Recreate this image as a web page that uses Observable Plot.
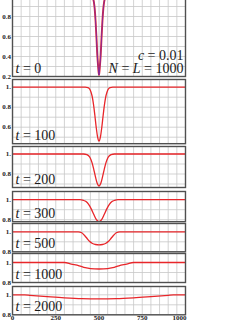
<!DOCTYPE html>
<html><head><meta charset="utf-8">
<script src="https://cdn.jsdelivr.net/npm/d3@7"></script>
<script src="https://cdn.jsdelivr.net/npm/@observablehq/plot@0.6"></script>
<style>
html,body{margin:0;padding:0;background:#fff}
#chart{position:relative;width:249px;height:323px;overflow:hidden}
#chart svg{position:absolute;left:0;overflow:visible}
#chart g[aria-label$="tick label"]{font-weight:bold}
</style></head><body><div id="chart"></div>
<script>
// ---- data ----
const times = [0, 100, 200, 300, 500, 1000, 2000];
const xTicks = [0, 250, 500, 750, 1000];
const paramText1 = "c = 0.01";
const paramText2 = "N = L = 1000";

const x_t0 = [0, 440, 460, 465, 470, 475, 480, 485, 490, 495, 498, 500, 502, 505, 510, 515, 520, 525, 530, 535, 540, 560, 1000];
const u_t0 = [1, 1, 0.995, 0.982, 0.948, 0.878, 0.76, 0.6, 0.42, 0.3, 0.24, 0.215, 0.24, 0.3, 0.42, 0.6, 0.76, 0.878, 0.948, 0.982, 0.995, 1, 1];

const x_t100 = [0, 420, 436, 444, 452, 460, 468, 476, 484, 492, 500, 508, 516, 524, 532, 540, 548, 556, 564, 580, 1000];
const u_t100 = [1, 1, 0.995, 0.985, 0.96, 0.912, 0.831, 0.719, 0.596, 0.5, 0.46, 0.5, 0.596, 0.719, 0.831, 0.912, 0.96, 0.985, 0.995, 1, 1];

const x_t200 = [0, 410, 430, 440, 450, 460, 470, 480, 490, 500, 510, 520, 530, 540, 550, 560, 570, 590, 1000];
const u_t200 = [1, 1, 0.994, 0.982, 0.957, 0.911, 0.844, 0.768, 0.705, 0.68, 0.705, 0.768, 0.844, 0.911, 0.957, 0.982, 0.994, 1, 1];

const x_t300 = [0, 390, 410, 425, 440, 455, 470, 485, 500, 515, 530, 545, 560, 575, 590, 610, 1000];
const u_t300 = [1, 1, 0.993, 0.981, 0.954, 0.908, 0.851, 0.8, 0.78, 0.8, 0.851, 0.908, 0.954, 0.981, 0.993, 1, 1];

const x_t500 = [0, 380, 400, 415, 430, 445, 460, 480, 500, 520, 540, 555, 570, 585, 600, 620, 1000];
const u_t500 = [1, 1, 0.99, 0.965, 0.935, 0.905, 0.885, 0.873, 0.87, 0.873, 0.885, 0.905, 0.935, 0.965, 0.99, 1, 1];

const x_t1000 = [0, 300, 340, 385, 420, 450, 500, 550, 580, 615, 660, 700, 1000];
const u_t1000 = [1, 1, 0.984, 0.967, 0.948, 0.939, 0.935, 0.939, 0.948, 0.967, 0.984, 1, 1];

const x_t2000 = [0, 70, 100, 200, 300, 400, 500, 600, 700, 800, 900, 930, 1000];
const u_t2000 = [1, 0.999, 0.995, 0.982, 0.97, 0.962, 0.96, 0.962, 0.97, 0.982, 0.995, 0.999, 1];

const seriesX = [x_t0, x_t100, x_t200, x_t300, x_t500, x_t1000, x_t2000];
const seriesU = [u_t0, u_t100, u_t200, u_t300, u_t500, u_t1000, u_t2000];

// ---- layout (not data) ----
const PX_PER_UNIT = 100;
const layout = [
  {top: -12,   lo: 0.2,   hi: 1.08,  ticks: [0.2, 0.4, 0.6, 0.8, 1]},
  {top: 79,    lo: 0.435, hi: 1.077, ticks: [0.6, 0.8, 1]},
  {top: 146,   lo: 0.665, hi: 1.075, ticks: [0.8, 1]},
  {top: 190.5, lo: 0.78,  hi: 1.082, ticks: [0.8, 1]},
  {top: 222.7, lo: 0.8,   hi: 1.083, ticks: [0.8, 1]},
  {top: 252.7, lo: 0.8,   hi: 1.09,  ticks: [0.8, 1]},
  {top: 286,   lo: 0.8,   hi: 1.083, ticks: [0.8, 1]}
];
const xGrid = d3.range(0, 1001, 50);
const yGridAll = d3.range(2, 11).map(d => d / 10);
const SERIF = "'Liberation Serif', 'DejaVu Serif', serif";
const RED = "#e8262a";
const ns = "http://www.w3.org/2000/svg";

function italicize(svg) {
  svg.querySelectorAll('g[aria-label="text"] text').forEach(el => {
    const s = el.textContent;
    el.textContent = "";
    s.split(/([tcNL])(?= =)/).forEach((part, i) => {
      if (!part) return;
      const ts = document.createElementNS(ns, "tspan");
      if (i % 2 === 1) ts.setAttribute("font-style", "italic");
      ts.textContent = part;
      el.appendChild(ts);
    });
  });
}

const chart = document.getElementById("chart");
times.forEach((t, i) => {
  const L = layout[i];
  const last = i === times.length - 1;
  const mt = 2, mb = last ? 10 : 2;
  const plotH = (L.hi - L.lo) * PX_PER_UNIT;
  const pts = seriesX[i].map((x, j) => ({x, u: seriesU[i][j]}));
  const yGrid = yGridAll.filter(v => v >= L.lo && v <= L.hi);
  const marks = [
    Plot.ruleX(xGrid, {stroke: "#c8c8c8", strokeWidth: 0.8}),
    Plot.ruleY(yGrid, {stroke: "#c8c8c8", strokeWidth: 0.8}),
    Plot.line(pts, {x: "x", y: "u", curve: "monotone-x", stroke: RED, strokeWidth: i === 0 ? 1.9 : 1.3, clip: true})
  ];
  if (i === 0) {
    marks.push(Plot.line(pts, {x: "x", y: "u", curve: "monotone-x", stroke: "#2a2aff", strokeWidth: 0.9, strokeOpacity: 0.6, clip: true}));
  }
  marks.push(Plot.frame({stroke: "#505050", strokeWidth: 1.4}));
  marks.push(Plot.text(["t = " + t], {text: d => d, frameAnchor: "bottom-left", textAnchor: "start", lineAnchor: "bottom", dx: 3, dy: -4, fontSize: 14, fontFamily: SERIF, fill: "#1a1a1a"}));
  if (i === 0) {
    marks.push(Plot.text([paramText1], {text: d => d, frameAnchor: "bottom-right", textAnchor: "end", lineAnchor: "bottom", dx: -2, dy: -16.4, fontSize: 14, fontFamily: SERIF, fill: "#1a1a1a"}));
    marks.push(Plot.text([paramText2], {text: d => d, frameAnchor: "bottom-right", textAnchor: "end", lineAnchor: "bottom", dx: -2, dy: -4, fontSize: 14, fontFamily: SERIF, fill: "#1a1a1a"}));
  }
  const svg = Plot.plot({
    width: 249,
    height: plotH + mt + mb,
    marginTop: mt, marginBottom: mb, marginLeft: 12, marginRight: 64,
    style: {fontFamily: SERIF, fontSize: "7px", color: "#222", background: "transparent", overflow: "visible"},
    x: {domain: [0, 1000], axis: last ? "bottom" : null, ticks: xTicks, tickSize: 0, tickPadding: 0, label: null, tickFormat: d => String(d)},
    y: {domain: [L.lo, L.hi], ticks: L.ticks, tickSize: 0, tickPadding: 1.5, label: null, tickFormat: d => d === 1 ? "1." : d.toFixed(1)},
    marks
  });
  svg.style.top = (L.top - mt) + "px";
  italicize(svg);
  if (last) {
    const lbls = svg.querySelectorAll('g[aria-label="x-axis tick label"] text');
    if (lbls.length) {
      const e = lbls[lbls.length - 1];
      e.setAttribute("text-anchor", "end");
      e.setAttribute("dx", "1");
    }
  }
  chart.appendChild(svg);
});
</script></body></html>
